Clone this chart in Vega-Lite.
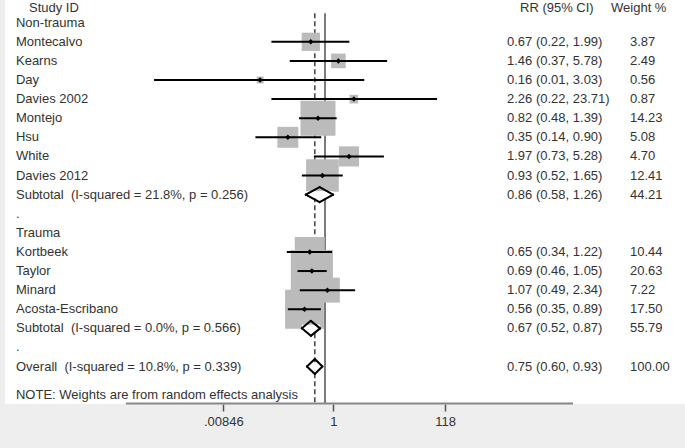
{
  "$schema": "https://vega.github.io/schema/vega-lite/v6.json",
  "width": 680,
  "height": 404,
  "autosize": {"type": "none"},
  "padding": {"left": 5, "top": 0, "right": 0, "bottom": 44},
  "background": "#eeeeee",
  "config": {
    "view": {"fill": "white", "stroke": null},
    "text": {"font": "Liberation Sans", "fontSize": 13, "fill": "#333333", "baseline": "middle", "align": "left"}
  },
  "datasets": {
    "rows": [
      {"row": 1, "label": "Non-trauma", "type": "label"},
      {"row": 2, "label": "Montecalvo", "type": "study", "est": 0.67, "lo": 0.22, "hi": 1.99, "ci": "0.67 (0.22, 1.99)", "weight": 3.87},
      {"row": 3, "label": "Kearns", "type": "study", "est": 1.46, "lo": 0.37, "hi": 5.78, "ci": "1.46 (0.37, 5.78)", "weight": 2.49},
      {"row": 4, "label": "Day", "type": "study", "est": 0.16, "lo": 0.008, "hi": 3.03, "ci": "0.16 (0.01, 3.03)", "weight": 0.56},
      {"row": 5, "label": "Davies 2002", "type": "study", "est": 2.26, "lo": 0.22, "hi": 23.71, "ci": "2.26 (0.22, 23.71)", "weight": 0.87},
      {"row": 6, "label": "Montejo", "type": "study", "est": 0.82, "lo": 0.48, "hi": 1.39, "ci": "0.82 (0.48, 1.39)", "weight": 14.23},
      {"row": 7, "label": "Hsu", "type": "study", "est": 0.35, "lo": 0.14, "hi": 0.9, "ci": "0.35 (0.14, 0.90)", "weight": 5.08},
      {"row": 8, "label": "White", "type": "study", "est": 1.97, "lo": 0.73, "hi": 5.28, "ci": "1.97 (0.73, 5.28)", "weight": 4.7},
      {"row": 9, "label": "Davies 2012", "type": "study", "est": 0.93, "lo": 0.52, "hi": 1.65, "ci": "0.93 (0.52, 1.65)", "weight": 12.41},
      {"row": 10, "label": "Subtotal\u00a0 (I-squared = 21.8%, p = 0.256)", "type": "pooled", "est": 0.86, "lo": 0.58, "hi": 1.26, "ci": "0.86 (0.58, 1.26)", "weight": 44.21},
      {"row": 11, "label": ".", "type": "label"},
      {"row": 12, "label": "Trauma", "type": "label"},
      {"row": 13, "label": "Kortbeek", "type": "study", "est": 0.65, "lo": 0.34, "hi": 1.22, "ci": "0.65 (0.34, 1.22)", "weight": 10.44},
      {"row": 14, "label": "Taylor", "type": "study", "est": 0.69, "lo": 0.46, "hi": 1.05, "ci": "0.69 (0.46, 1.05)", "weight": 20.63},
      {"row": 15, "label": "Minard", "type": "study", "est": 1.07, "lo": 0.49, "hi": 2.34, "ci": "1.07 (0.49, 2.34)", "weight": 7.22},
      {"row": 16, "label": "Acosta-Escribano", "type": "study", "est": 0.56, "lo": 0.35, "hi": 0.89, "ci": "0.56 (0.35, 0.89)", "weight": 17.5},
      {"row": 17, "label": "Subtotal\u00a0 (I-squared = 0.0%, p = 0.566)", "type": "pooled", "est": 0.67, "lo": 0.52, "hi": 0.87, "ci": "0.67 (0.52, 0.87)", "weight": 55.79},
      {"row": 18, "label": ".", "type": "label"},
      {"row": 19, "label": "Overall\u00a0 (I-squared = 10.8%, p = 0.339)", "type": "pooled", "est": 0.75, "lo": 0.6, "hi": 0.93, "ci": "0.75 (0.60, 0.93)", "weight": 100.0},
      {"row": 20.49, "label": "NOTE: Weights are from random effects analysis", "type": "label"}
    ],
    "header": [
      {"row": 0.24, "study": "Study ID", "rr": "RR (95% CI)", "wt": "Weight %"}
    ],
    "refs": [
      {"value": 1, "top": 0.5, "bottom": 20.96},
      {"value": 0.75, "top": 0.5, "bottom": 20.96}
    ],
    "axisline": [
      {"from": 0.00361, "to": 1104, "row": 20.93}
    ]
  },
  "layer": [
    {
      "data": {"name": "refs"},
      "transform": [{"filter": "datum.value == 1"}],
      "mark": {"type": "rule", "stroke": "#444444", "strokeWidth": 1.4},
      "encoding": {
        "x": {"field": "value", "type": "quantitative", "title": null,
          "scale": {"type": "log", "domain": [0.0001185, 26120], "nice": false, "zero": false},
          "axis": {"values": [0.0565, 1.264, 29.67], "labelExpr": "datum.value < 0.1 ? '.00846' : datum.value < 10 ? '1' : '118'",
            "domain": false, "grid": false, "ticks": true, "tickSize": 7, "tickColor": "#555555", "tickWidth": 1.5,
            "labelFont": "Liberation Sans", "labelFontSize": 13, "labelColor": "#333333", "labelPadding": 4, "labelFlush": false, "labelOverlap": false, "title": null}},
        "y": {"field": "top", "type": "quantitative", "scale": {"domain": [-0.188, 20.96], "reverse": true, "nice": false, "zero": false}, "axis": null},
        "y2": {"field": "bottom"}
      }
    },
    {
      "data": {"name": "refs"},
      "transform": [{"filter": "datum.value != 1"}],
      "mark": {"type": "rule", "stroke": "#333333", "strokeWidth": 1.4, "strokeDash": [5, 3]},
      "encoding": {
        "x": {"field": "value", "type": "quantitative", "title": null},
        "y": {"field": "top", "type": "quantitative", "axis": null},
        "y2": {"field": "bottom"}
      }
    },
    {
      "data": {"name": "axisline"},
      "mark": {"type": "rule", "stroke": "#888888", "strokeWidth": 2},
      "encoding": {
        "x": {"field": "from", "type": "quantitative", "title": null},
        "x2": {"field": "to"},
        "y": {"field": "row", "type": "quantitative", "axis": null}
      }
    },
    {
      "data": {"name": "rows"},
      "transform": [{"filter": "datum.type == 'study'"}],
      "mark": {"type": "square", "filled": true, "color": "#bbbbbb", "opacity": 1},
      "encoding": {
        "x": {"field": "est", "type": "quantitative", "title": null},
        "y": {"field": "row", "type": "quantitative", "axis": null},
        "size": {"field": "weight", "type": "quantitative", "scale": {"domain": [0, 20], "range": [0, 1722], "zero": true}, "legend": null}
      }
    },
    {
      "data": {"name": "rows"},
      "transform": [{"filter": "datum.type == 'study'"}],
      "mark": {"type": "rule", "stroke": "black", "strokeWidth": 2},
      "encoding": {
        "x": {"field": "lo", "type": "quantitative", "title": null},
        "x2": {"field": "hi"},
        "y": {"field": "row", "type": "quantitative", "axis": null}
      }
    },
    {
      "data": {"name": "rows"},
      "transform": [{"filter": "datum.type == 'study'"}],
      "mark": {"type": "point", "shape": "diamond", "filled": true, "color": "black", "opacity": 1, "size": 30},
      "encoding": {
        "x": {"field": "est", "type": "quantitative", "title": null},
        "y": {"field": "row", "type": "quantitative", "axis": null}
      }
    },
    {
      "data": {"name": "rows"},
      "transform": [{"filter": "datum.type == 'pooled'"}],
      "mark": {"type": "rect", "fill": "white", "yOffset": -3.5, "y2Offset": 3.5},
      "encoding": {
        "x": {"field": "lo", "type": "quantitative", "title": null},
        "x2": {"field": "hi"},
        "y": {"field": "row", "type": "quantitative", "axis": null},
        "y2": {"field": "row"}
      }
    },
    {
      "data": {"name": "rows"},
      "transform": [{"filter": "datum.type == 'pooled'"}],
      "mark": {"type": "rule", "stroke": "black", "strokeWidth": 2, "y2Offset": -7.5, "strokeCap": "round"},
      "encoding": {
        "x": {"field": "lo", "type": "quantitative", "title": null},
        "x2": {"field": "est"},
        "y": {"field": "row", "type": "quantitative", "axis": null},
        "y2": {"field": "row"}
      }
    },
    {
      "data": {"name": "rows"},
      "transform": [{"filter": "datum.type == 'pooled'"}],
      "mark": {"type": "rule", "stroke": "black", "strokeWidth": 2, "y2Offset": 7.5, "strokeCap": "round"},
      "encoding": {
        "x": {"field": "lo", "type": "quantitative", "title": null},
        "x2": {"field": "est"},
        "y": {"field": "row", "type": "quantitative", "axis": null},
        "y2": {"field": "row"}
      }
    },
    {
      "data": {"name": "rows"},
      "transform": [{"filter": "datum.type == 'pooled'"}],
      "mark": {"type": "rule", "stroke": "black", "strokeWidth": 2, "yOffset": -7.5, "strokeCap": "round"},
      "encoding": {
        "x": {"field": "est", "type": "quantitative", "title": null},
        "x2": {"field": "hi"},
        "y": {"field": "row", "type": "quantitative", "axis": null},
        "y2": {"field": "row"}
      }
    },
    {
      "data": {"name": "rows"},
      "transform": [{"filter": "datum.type == 'pooled'"}],
      "mark": {"type": "rule", "stroke": "black", "strokeWidth": 2, "yOffset": 7.5, "strokeCap": "round"},
      "encoding": {
        "x": {"field": "est", "type": "quantitative", "title": null},
        "x2": {"field": "hi"},
        "y": {"field": "row", "type": "quantitative", "axis": null},
        "y2": {"field": "row"}
      }
    },
    {
      "data": {"name": "rows"},
      "mark": {"type": "text"},
      "encoding": {
        "x": {"datum": 0.0001616, "type": "quantitative", "title": null},
        "y": {"field": "row", "type": "quantitative", "axis": null},
        "text": {"field": "label"}
      }
    },
    {
      "data": {"name": "rows"},
      "transform": [{"filter": "datum.type != 'label'"}],
      "mark": {"type": "text"},
      "encoding": {
        "x": {"datum": 171.1, "type": "quantitative", "title": null},
        "y": {"field": "row", "type": "quantitative", "axis": null},
        "text": {"field": "ci"}
      }
    },
    {
      "data": {"name": "rows"},
      "transform": [{"filter": "datum.type != 'label'"}],
      "mark": {"type": "text"},
      "encoding": {
        "x": {"datum": 5525, "type": "quantitative", "title": null},
        "y": {"field": "row", "type": "quantitative", "axis": null},
        "text": {"field": "weight", "type": "quantitative", "format": ".2f"}
      }
    },
    {
      "data": {"name": "header"},
      "mark": {"type": "text"},
      "encoding": {
        "x": {"datum": 0.0002334, "type": "quantitative", "title": null},
        "y": {"field": "row", "type": "quantitative", "axis": null},
        "text": {"field": "study"}
      }
    },
    {
      "data": {"name": "header"},
      "mark": {"type": "text"},
      "encoding": {
        "x": {"datum": 247.0, "type": "quantitative", "title": null},
        "y": {"field": "row", "type": "quantitative", "axis": null},
        "text": {"field": "rr"}
      }
    },
    {
      "data": {"name": "header"},
      "mark": {"type": "text"},
      "encoding": {
        "x": {"datum": 3230, "type": "quantitative", "title": null},
        "y": {"field": "row", "type": "quantitative", "axis": null},
        "text": {"field": "wt"}
      }
    }
  ]
}
